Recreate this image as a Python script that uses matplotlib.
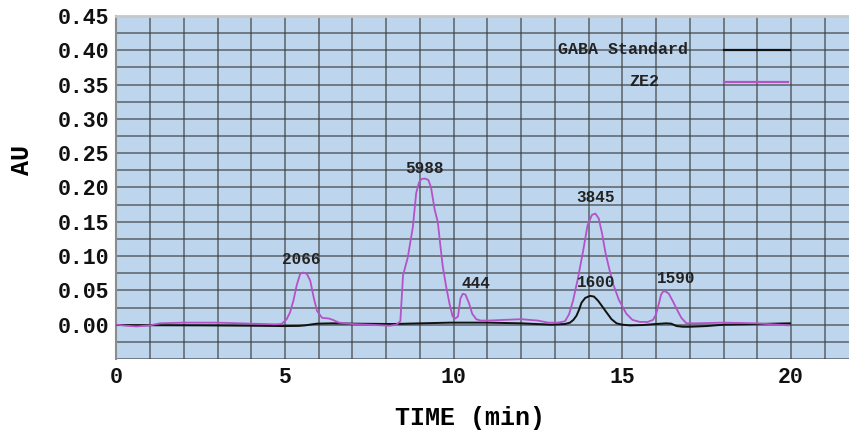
import matplotlib
matplotlib.use("Agg")
import matplotlib.pyplot as plt
from matplotlib.ticker import MultipleLocator

tiempo_ze2 = [0, 0.3, 0.6, 1.0, 1.3, 2.0, 3.0, 4.0, 4.7, 4.9, 5.05, 5.15, 5.25, 5.35,
              5.45, 5.55, 5.65, 5.75, 5.85, 5.95, 6.1, 6.3, 6.42, 6.6, 6.8, 7.0, 7.5,
              8.1, 8.3, 8.42, 8.5, 8.64, 8.79, 8.89, 8.97, 9.05, 9.15, 9.25, 9.33, 9.44,
              9.53, 9.6, 9.68, 9.78, 9.88, 9.97, 10.05, 10.13, 10.2, 10.27, 10.35, 10.45,
              10.55, 10.67, 10.8, 11.0, 11.5, 12.0, 12.5, 12.8, 13.1, 13.3, 13.42, 13.54,
              13.69, 13.84, 13.97, 14.1, 14.2, 14.3, 14.4, 14.5, 14.62, 14.73, 14.9,
              15.12, 15.3, 15.52, 15.75, 15.91, 16.0, 16.08, 16.15, 16.22, 16.3, 16.38,
              16.5, 16.61, 16.75, 16.9, 17.2, 18.0, 19.0, 19.92]
au_ze2 = [0, -0.0015, -0.0025, -0.001, 0.002, 0.003, 0.003, 0.0015, 0.0005, 0.001, 0.008,
          0.018, 0.035, 0.058, 0.074, 0.076, 0.074, 0.064, 0.04, 0.02, 0.01, 0.009, 0.007,
          0.003, 0.002, 0.001, 0.0, -0.0015, 0.0, 0.005, 0.072, 0.098, 0.142, 0.192, 0.207,
          0.2125, 0.213, 0.211, 0.200, 0.167, 0.150, 0.118, 0.084, 0.055, 0.030, 0.012,
          0.009, 0.012, 0.038, 0.045, 0.044, 0.032, 0.016, 0.008, 0.006, 0.006, 0.007,
          0.008, 0.006, 0.003, 0.003, 0.005, 0.015, 0.035, 0.069, 0.108, 0.145, 0.160,
          0.162, 0.155, 0.133, 0.105, 0.080, 0.059, 0.036, 0.016, 0.007, 0.004, 0.004,
          0.007, 0.015, 0.030, 0.044, 0.049, 0.048, 0.045, 0.034, 0.023, 0.010, 0.002,
          0.002, 0.003, 0.002, -0.001]

tiempo_gaba = [0, 1.0, 2.5, 4.0, 4.93, 5.4, 5.6, 5.8, 5.95, 6.4, 7.0, 8.2, 9.9, 11.0, 12.0,
               12.9, 13.3, 13.45, 13.55, 13.64, 13.72, 13.79, 13.9, 14.04, 14.16, 14.28,
               14.4, 14.53, 14.68, 14.83, 15.0, 15.22, 15.6, 16.0, 16.3, 16.45, 16.61, 16.8,
               17.0, 17.5, 18.0, 19.0, 19.97]
au_gaba = [-0.0005, -0.0008, -0.001, -0.0015, -0.002, -0.0018, -0.001, 0.0005, 0.0015,
           0.002, 0.0015, 0.001, 0.003, 0.003, 0.002, 0.0, 0.001, 0.003, 0.007, 0.013,
           0.022, 0.032, 0.039, 0.042, 0.041, 0.035, 0.027, 0.018, 0.008, 0.002, 0.0,
           -0.001, -0.0005, 0.001, 0.002, 0.0015, -0.002, -0.003, -0.003, -0.002, 0.0,
           0.001, 0.002]

# Etiquetas de area de los picos
picos_texto = ['2066', '5988', '444', '3845', '1600', '1590']
picos_x = [5.49, 9.14, 10.65, 14.21, 14.24, 16.59]
picos_y = [0.095, 0.228, 0.060, 0.186, 0.061, 0.067]

fuente = 'Liberation Mono'

fig = plt.figure(figsize=(8.49, 4.32), dpi=100)
ax = fig.add_axes([0.137, 0.169, 0.863, 0.794])
ax.set_facecolor('#bdd5ed')

ax.plot(tiempo_gaba, au_gaba, color='#111111', linewidth=1.4, zorder=3)
ax.plot(tiempo_ze2, au_ze2, color='#b452c8', linewidth=1.3, zorder=3)

for t, x, y in zip(picos_texto, picos_x, picos_y):
    ax.text(x, y, t, ha='center', va='center', fontsize=11.5,
            family=fuente, fontweight='bold', color='#222222')

# Leyenda hecha a mano
ax.plot([18.0, 19.97], [0.4005, 0.4005], color='#111111', linewidth=1.6)
ax.plot([18.0, 19.9], [0.354, 0.354], color='#b452c8', linewidth=1.6)
ax.text(16.94, 0.4005, 'GABA Standard', ha='right', va='center', fontsize=12,
        family=fuente, fontweight='bold', color='#222222')
ax.text(16.1, 0.354, 'ZE2', ha='right', va='center', fontsize=12,
        family=fuente, fontweight='bold', color='#222222')

ax.set_xlim(0, 21.72)
ax.set_ylim(-0.05, 0.45)
ax.xaxis.set_minor_locator(MultipleLocator(1))
ax.yaxis.set_minor_locator(MultipleLocator(0.025))
ax.set_xticks([0, 5, 10, 15, 20])
ax.set_yticks([0.0, 0.05, 0.10, 0.15, 0.20, 0.25, 0.30, 0.35, 0.40, 0.45])
ax.set_yticklabels(['%.2f' % v for v in ax.get_yticks()])
ax.grid(True, which='both', color='#3c3c3c', linewidth=1.1, alpha=0.75)
ax.set_axisbelow(True)
ax.tick_params(which='both', length=0)
ax.tick_params(axis='x', pad=6)
ax.tick_params(axis='y', pad=5)
for lab in ax.get_xticklabels() + ax.get_yticklabels():
    lab.set_family(fuente)
    lab.set_fontweight('bold')
    lab.set_fontsize(15.5)
    lab.set_color('#111111')

for s in ['right', 'bottom']:
    ax.spines[s].set_visible(False)
ax.spines['left'].set_color('#8c8c8c')
ax.spines['left'].set_linewidth(1.5)
ax.spines['top'].set_color('#c8c8c8')
ax.spines['top'].set_linewidth(2)

ax.set_xlabel('TIME (min)', family=fuente, fontweight='bold', fontsize=18, va='center')
ax.set_ylabel('AU', family=fuente, fontweight='bold', fontsize=18, va='center')
ax.xaxis.set_label_coords(0.483, -0.172)
ax.yaxis.set_label_coords(-0.129, 0.58)

fig.savefig('out.png', dpi=100)
